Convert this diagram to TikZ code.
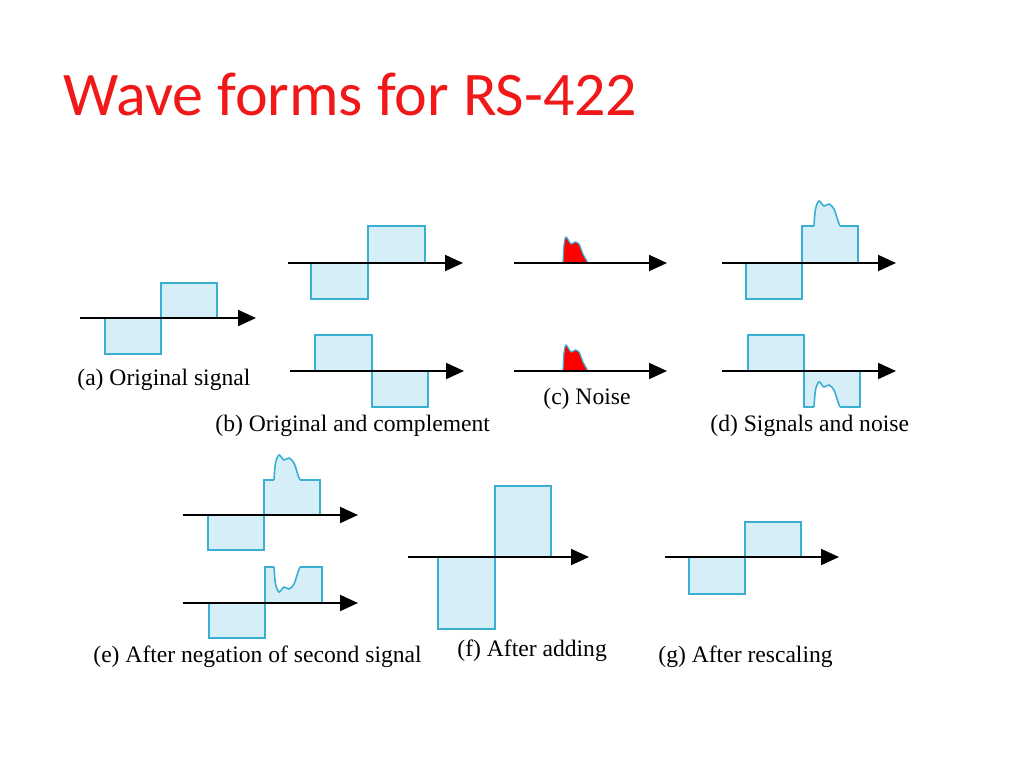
\documentclass[tikz,border=0pt]{standalone}
\usepackage{fontspec}
\setmainfont{Liberation Serif}
\newfontfamily\titlefont{Carlito}
\usetikzlibrary{arrows.meta}
\definecolor{sfill}{HTML}{D6EEF8}
\definecolor{sline}{HTML}{3AAFD2}
\definecolor{tred}{HTML}{F01818}
\tikzset{
  axis/.style={line width=1pt,-{Triangle[length=9pt,width=8pt]}},
  sig/.style={fill=sfill,draw=sline,line width=0.8pt},
  lab/.style={font=\fontsize{11.8}{14}\selectfont,anchor=base west,inner sep=0pt},
}
\newcommand{\bumppts}{(0,0)(1.5,-17)(5,-25)(10,-20)(15,-22)(20,-17)(24,-5)(26,0)}
\newcommand{\bumpat}[4]{%
  \begin{scope}[shift={(#1,#2)},yscale=#3]
    \fill[#4] (0,3) -- plot[smooth,tension=0.5] coordinates {\bumppts} -- (26,3) -- cycle;
    \draw[sline,line width=0.8pt] plot[smooth,tension=0.5] coordinates {\bumppts};
  \end{scope}}
\newcommand{\noiseat}[2]{%
  \begin{scope}[shift={(#1,#2)}]
    \filldraw[fill=red,draw=sline,line width=0.6pt] (0,0) -- plot[smooth,tension=0.5] coordinates {(0,0)(1,-18)(3,-26)(8,-19)(12,-21)(16,-19)(20,-9)(25,0)} -- cycle;
  \end{scope}}
\begin{document}
\begin{tikzpicture}[x=0.5pt,y=-0.5pt]
\useasboundingbox (0,0) rectangle (1024,768);
\node[anchor=base west,inner sep=0pt,text=tred,font=\titlefont\fontsize{31}{36}\selectfont] (title) at (63,115) {Wave forms for RS-422};
% (a)
\draw[sig] (105,318) rectangle (161,354);
\draw[sig] (161,283) rectangle (217,318);
\coordinate (a1) at (80,318); \coordinate (a2) at (256,318);
\draw[axis] (a1) -- (a2);
\node[lab] (la) at (77,385) {(a) Original signal};
% (b)
\draw[sig] (311,263) rectangle (368,299);
\draw[sig] (368,226) rectangle (425,263);
\coordinate (b1) at (288,263); \coordinate (b2) at (463,263);
\draw[axis] (b1) -- (b2);
\draw[sig] (315,335) rectangle (372,371);
\draw[sig] (372,371) rectangle (428,407);
\coordinate (b3) at (290,371); \coordinate (b4) at (464,371);
\draw[axis] (b3) -- (b4);
\node[lab] (lb) at (215,431) {(b) Original and complement};
% (c)
\noiseat{563}{263}
\coordinate (c1) at (514,263); \coordinate (c2) at (667,263);
\draw[axis] (c1) -- (c2);
\noiseat{563}{371}
\coordinate (c3) at (514,371); \coordinate (c4) at (667,371);
\draw[axis] (c3) -- (c4);
\node[lab] (lc) at (543,404) {(c) Noise};
% (d)
\draw[sig] (746,263) rectangle (802,299);
\draw[sig] (802,226) rectangle (858,263);
\bumpat{814}{226}{1}{sfill}
\coordinate (d1) at (722,263); \coordinate (d2) at (896,263);
\draw[axis] (d1) -- (d2);
\draw[sig] (748,335) rectangle (804,371);
\draw[sig] (804,371) rectangle (860,407);
\bumpat{814}{407}{1}{white}
\coordinate (d3) at (722,371); \coordinate (d4) at (896,371);
\draw[axis] (d3) -- (d4);
\node[lab] (ld) at (710,431) {(d) Signals and noise};
% (e)
\draw[sig] (208,515) rectangle (264,550);
\draw[sig] (264,480) rectangle (320,515);
\bumpat{274}{480}{1}{sfill}
\coordinate (e1) at (183,515); \coordinate (e2) at (358,515);
\draw[axis] (e1) -- (e2);
\draw[sig] (209,603) rectangle (265,638);
\draw[sig] (265,567) rectangle (322,603);
\bumpat{274}{567}{-1}{white}
\coordinate (e3) at (183,603); \coordinate (e4) at (358,603);
\draw[axis] (e3) -- (e4);
\node[lab] (le) at (93,662) {(e) After negation of second signal};
% (f)
\draw[sig] (438,557) rectangle (495,629);
\draw[sig] (495,486) rectangle (551,557);
\coordinate (f1) at (408,557); \coordinate (f2) at (589,557);
\draw[axis] (f1) -- (f2);
\node[lab] (lf) at (457,656) {(f) After adding};
% (g)
\draw[sig] (689,557) rectangle (745,594);
\draw[sig] (745,522) rectangle (801,557);
\coordinate (g1) at (665,557); \coordinate (g2) at (839,557);
\draw[axis] (g1) -- (g2);
\node[lab] (lg) at (658,662) {(g) After rescaling};
\end{tikzpicture}
\end{document}
